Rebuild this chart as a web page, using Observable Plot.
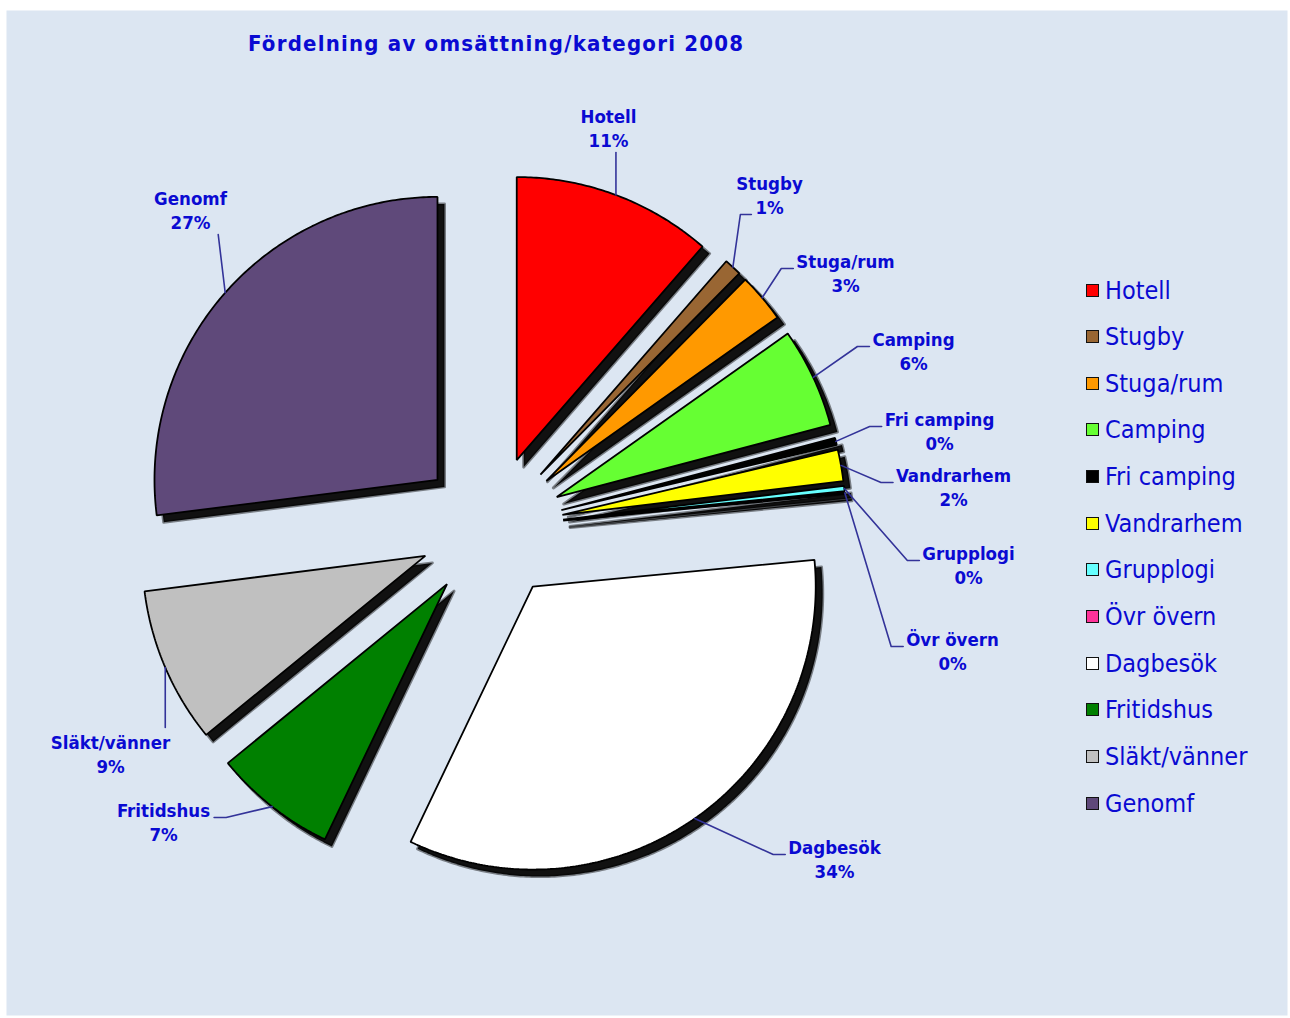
<!DOCTYPE html>
<html><head><meta charset="utf-8">
<script src="https://cdn.jsdelivr.net/npm/d3@7"></script>
<script src="https://cdn.jsdelivr.net/npm/@observablehq/plot@0.6"></script>
<style>
body{margin:0;background:#fff;}
#wrap{position:relative;width:1290px;height:1018px;overflow:hidden;}
#title{position:absolute;left:248px;top:31px;font:bold 22px "DejaVu Sans Condensed","DejaVu Sans",sans-serif;color:#0a0ad2;white-space:nowrap;line-height:26px;}
#legend{position:absolute;left:1086px;top:0;}
.row{position:absolute;left:0;display:flex;align-items:center;white-space:nowrap;height:30px;}
.sw{width:11px;height:11px;border:1.5px solid #111;box-sizing:content-box;}
.lt{margin-left:6px;font:25px "DejaVu Sans Condensed","DejaVu Sans",sans-serif;color:#0a0ad2;}
</style></head>
<body><div id="wrap"><div id="chart"></div><div id="title"></div><div id="legend"></div></div>
<script>
// ---- data ----
const titleText = "Fördelning av omsättning/kategori 2008";
const categories = ["Hotell","Stugby","Stuga/rum","Camping","Fri camping","Vandrarhem","Grupplogi","Övr övern","Dagbesök","Fritidshus","Släkt/vänner","Genomf"];
const values = [11.4, 1.0, 2.8, 5.7, 0.4, 1.8, 0.3, 0.1, 33.6, 7.0, 8.9, 27.0];
const colors = ["#ff0000","#996633","#ff9900","#66ff33","#000000","#ffff00","#66ffff","#ff3399","#ffffff","#008000","#c0c0c0","#5f497a"];

// ---- layout (pixels) ----
const CX = 491, CY = 527, R = 283, EXPLODE = 72, SHADOW = 7;
const labelLayout = [
  {x:608, y:127, mode:"B"}, {x:769, y:194, mode:"L2"}, {x:845, y:272, mode:"L"},
  {x:913, y:350, mode:"L"}, {x:939, y:430, mode:"L"}, {x:953, y:486, mode:"L"},
  {x:968, y:564, mode:"L"}, {x:952, y:650, mode:"L"}, {x:834, y:858, mode:"L"},
  {x:163, y:821, mode:"R"}, {x:110, y:753, mode:"T"}, {x:190, y:209, mode:"B"}
];
const textBlue = "#0a0ad2", leaderColor = "#333399";
const fontFam = '"DejaVu Sans Condensed","DejaVu Sans",sans-serif';
const labelSize = 18.5;

const rows = categories.map((c,i)=>({name:c, value:values[i], color:colors[i], k:i}));
const total = d3.sum(values);
const arcs = d3.pie().sort(null).value(d=>d.value)(rows);

const slicePts = [];
const shadowPts = [];
const leaderPts = [];
const labelRows = [];
const ctx = document.createElement("canvas").getContext("2d");
ctx.font = `bold ${labelSize}px ${fontFam}`;

arcs.forEach((p,i)=>{
  const mid = (p.startAngle+p.endAngle)/2;
  const ox = CX + EXPLODE*Math.sin(mid), oy = CY - EXPLODE*Math.cos(mid);
  const poly = [[ox, oy]];
  const n = Math.max(2, Math.ceil((p.endAngle-p.startAngle)/0.01));
  for (let j=0;j<=n;j++){
    const a = p.startAngle + (p.endAngle-p.startAngle)*j/n;
    poly.push([ox+R*Math.sin(a), oy-R*Math.cos(a)]);
  }
  poly.forEach(q=>{
    slicePts.push({k:i, x:q[0], y:q[1]});
    shadowPts.push({k:"s"+i, x:q[0]+SHADOW, y:q[1]+SHADOW});
  });
  // label
  const L = labelLayout[i];
  const pct = Math.round(p.data.value/total*100) + "%";
  labelRows.push({x:L.x, y:L.y, text:p.data.name + "\n" + pct});
  const w1 = ctx.measureText(p.data.name).width, w2 = ctx.measureText(pct).width;
  const sx = CX + (EXPLODE+R)*Math.sin(mid), sy = CY - (EXPLODE+R)*Math.cos(mid);
  let pts;
  if (L.mode==="L"){ const ax=L.x-w1/2-3, ay=L.y-4; pts=[[sx,sy],[ax-12,ay],[ax,ay]]; }
  else if (L.mode==="L2"){ const ax=L.x-w2/2-4, ay=L.y+20; pts=[[sx,sy],[ax-11,ay],[ax,ay]]; }
  else if (L.mode==="R"){ const ax=L.x+w1/2+4, ay=L.y-4; pts=[[sx,sy],[ax+12,ay],[ax,ay]]; }
  else if (L.mode==="T"){ pts=[[sx,sy],[sx,L.y-26]]; }
  else { pts=[[sx,sy],[sx - (i===11?7:0),L.y+25]]; }
  pts.forEach(q=>leaderPts.push({k:i, x:q[0], y:q[1]}));
});

const svg = Plot.plot({
  width:1290, height:1018,
  marginLeft:6, marginTop:10, marginRight:3, marginBottom:3,
  x:{domain:[6,1287], axis:null},
  y:{domain:[1015,10], axis:null},
  color:{type:"identity"},
  marks:[
    Plot.frame({fill:"#dce6f2", stroke:"none"}),
    Plot.line(shadowPts, {x:"x", y:"y", z:"k", fill:"#111111", stroke:"#000000", strokeOpacity:0.45, strokeWidth:3, curve:"linear-closed"}),
    Plot.line(slicePts, {x:"x", y:"y", z:"k", fill:d=>colors[d.k], stroke:"black", strokeWidth:1.8, curve:"linear-closed", strokeLinejoin:"miter"}),
    Plot.line(leaderPts, {x:"x", y:"y", z:"k", stroke:leaderColor, strokeWidth:1.6}),
    Plot.text(labelRows, {x:"x", y:"y", text:"text", fill:textBlue, fontSize:labelSize, fontWeight:"bold", fontFamily:fontFam, lineHeight:1.3})
  ]
});
document.getElementById("chart").appendChild(svg);

// title, fitted to the reference width
const t = document.getElementById("title");
t.textContent = titleText;
ctx.font = `bold 22px ${fontFam}`;
const tw = ctx.measureText(titleText).width;
t.style.letterSpacing = ((495 - tw)/(titleText.length-1)).toFixed(2) + "px";

// legend
const lg = document.getElementById("legend");
categories.forEach((c,i)=>{
  const r = document.createElement("div");
  r.className = "row";
  r.style.top = (290 + i*46.65 - 15) + "px";
  r.innerHTML = `<div class="sw" style="background:${colors[i]}"></div><div class="lt">${c}</div>`;
  lg.appendChild(r);
});
</script>
</body></html>
